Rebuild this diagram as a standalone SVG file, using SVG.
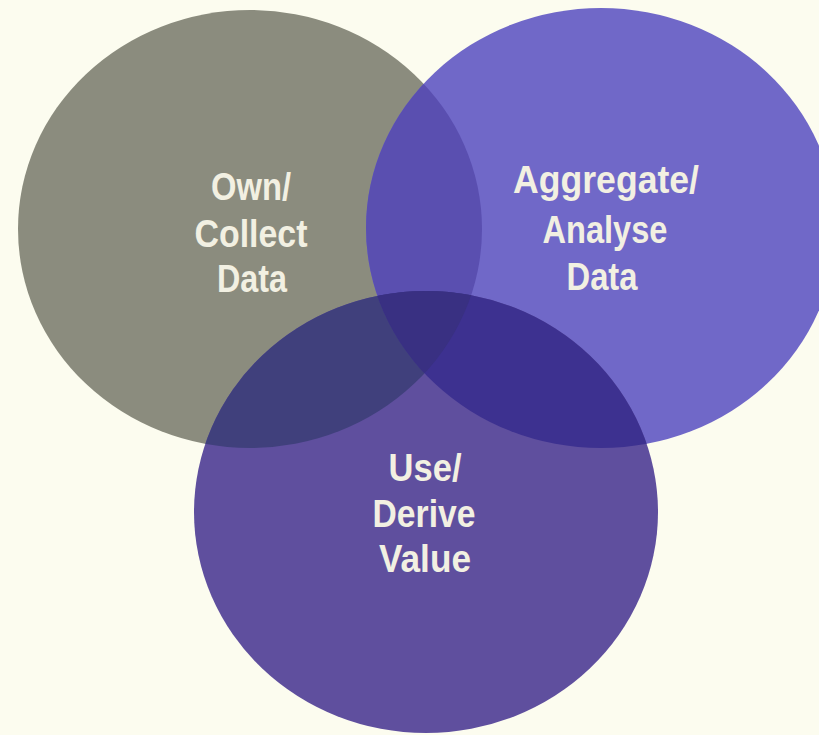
<svg xmlns="http://www.w3.org/2000/svg" width="819" height="735" viewBox="0 0 819 735">
  <style>
    .lbl { font-family: "Liberation Sans", Arial, sans-serif; font-weight: bold; font-size: 39px; fill: #f2f0e2; text-anchor: middle; }
  </style>
  <defs>
    <ellipse id="shapeOwn" cx="250" cy="229" rx="232" ry="219"/>
    <ellipse id="shapeAgg" cx="601" cy="228" rx="235" ry="220"/>
    <ellipse id="shapeUse" cx="426" cy="512" rx="232" ry="221"/>
    <clipPath id="clipOwn"><use href="#shapeOwn"/></clipPath>
    <clipPath id="clipAgg"><use href="#shapeAgg"/></clipPath>
  </defs>

  <rect width="819" height="735" fill="#fcfcef"/>

  <!-- base circles -->
  <g id="own-circle"><use href="#shapeOwn" fill="#8b8c7e"/></g>
  <g id="aggregate-circle"><use href="#shapeAgg" fill="#7068c8"/></g>
  <g id="use-circle"><use href="#shapeUse" fill="#5f4f9e"/></g>

  <!-- overlapping regions -->
  <g id="overlaps">
    <use href="#shapeAgg" fill="#5a4fb0" clip-path="url(#clipOwn)"/>
    <use href="#shapeUse" fill="#40407c" clip-path="url(#clipOwn)"/>
    <use href="#shapeUse" fill="#3d3190" clip-path="url(#clipAgg)"/>
    <g clip-path="url(#clipAgg)">
      <use href="#shapeUse" fill="#393082" clip-path="url(#clipOwn)"/>
    </g>
  </g>

  <!-- labels -->
  <g id="own-label">
    <text class="lbl" x="251" y="200" textLength="80" lengthAdjust="spacingAndGlyphs">Own/</text>
    <text class="lbl" x="251" y="247" textLength="113" lengthAdjust="spacingAndGlyphs">Collect</text>
    <text class="lbl" x="252" y="292" textLength="70" lengthAdjust="spacingAndGlyphs">Data</text>
  </g>
  <g id="aggregate-label">
    <text class="lbl" x="606" y="193" textLength="186" lengthAdjust="spacingAndGlyphs">Aggregate/</text>
    <text class="lbl" x="605" y="243" textLength="125" lengthAdjust="spacingAndGlyphs">Analyse</text>
    <text class="lbl" x="602" y="290" textLength="71" lengthAdjust="spacingAndGlyphs">Data</text>
  </g>
  <g id="use-label">
    <text class="lbl" x="425" y="481" textLength="73" lengthAdjust="spacingAndGlyphs">Use/</text>
    <text class="lbl" x="424" y="527" textLength="103" lengthAdjust="spacingAndGlyphs">Derive</text>
    <text class="lbl" x="425" y="572" textLength="92" lengthAdjust="spacingAndGlyphs">Value</text>
  </g>
</svg>
